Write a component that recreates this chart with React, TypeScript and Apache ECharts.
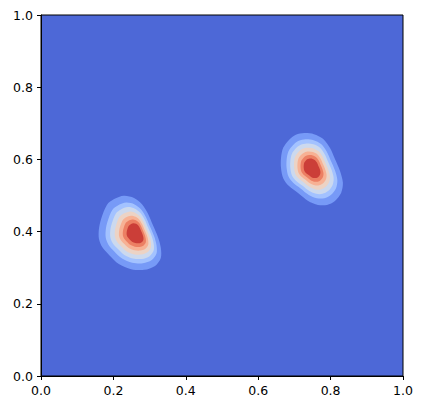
import React, { useEffect, useRef } from "react";
import * as echarts from "echarts";

// Axis ticks
const TICKS = [0, 0.2, 0.4, 0.6, 0.8, 1.0];

// Contour band colours (coolwarm, lowest band = background)
const BAND_COLORS = [
  "#4d68d7",
  "#779af7",
  "#a3c2ff",
  "#ccd9ee",
  "#ecd3c5",
  "#f7b194",
  "#ec7f63",
  "#cb3e38",
];

// Relative size of each contour line (outermost first) w.r.t. the outermost one
const LEVEL_SCALES = [1, 0.82, 0.7, 0.58, 0.47, 0.37, 0.27];

// Density peaks (data coords)
const PEAKS: number[][] = [
  [0.265, 0.395],
  [0.749, 0.576],
];

// Outermost contour of each blob (data coords)
const BLOB1_OUTLINE: number[][] = [
  [0.229, 0.499], [0.257, 0.493], [0.279, 0.476], [0.296, 0.449],
  [0.309, 0.418], [0.323, 0.385], [0.331, 0.355], [0.331, 0.327],
  [0.315, 0.305], [0.285, 0.294], [0.249, 0.296], [0.215, 0.31],
  [0.188, 0.335], [0.169, 0.357], [0.16, 0.38], [0.16, 0.407],
  [0.166, 0.435], [0.182, 0.474], [0.202, 0.49],
];
const BLOB2_OUTLINE: number[][] = [
  [0.727, 0.673], [0.754, 0.67], [0.779, 0.657], [0.798, 0.632],
  [0.812, 0.601], [0.826, 0.568], [0.834, 0.535], [0.829, 0.507],
  [0.812, 0.485], [0.79, 0.474], [0.765, 0.474], [0.738, 0.485],
  [0.71, 0.507], [0.685, 0.526], [0.669, 0.548], [0.663, 0.576],
  [0.663, 0.604], [0.669, 0.632], [0.685, 0.654], [0.704, 0.668],
];
const OUTLINES = [BLOB1_OUTLINE, BLOB2_OUTLINE];

export default function App() {
  const ref = useRef<HTMLDivElement>(null);
  useEffect(() => {
    if (!ref.current) return;
    const chart = echarts.init(ref.current, null, { renderer: "svg" });
    const data: any[] = [];
    for (let k = 1; k < BAND_COLORS.length; k++) {
      for (let b = 0; b < OUTLINES.length; b++) {
        data.push({ value: [PEAKS[b][0], PEAKS[b][1], k, b] });
      }
    }
    const labelFmt = (v: number) =>
      (TICKS.find((t) => Math.abs(t - v) < 1e-6) ?? v).toFixed(1);
    const axisCommon = {
      type: "value",
      min: 0,
      max: 1,
      interval: 0.2,
      splitLine: { show: false },
      axisLine: { show: true, lineStyle: { color: "#000", width: 1 } },
      axisTick: { show: true, inside: false, length: 4, lineStyle: { color: "#000", width: 1 } },
    };
    chart.setOption({
      animation: false,
      grid: {
        left: 41,
        top: 15,
        width: 362,
        height: 361,
        show: true,
        backgroundColor: BAND_COLORS[0],
        borderColor: "#000",
        borderWidth: 1,
      },
      xAxis: {
        ...axisCommon,
        axisLabel: {
          margin: 8,
          color: "#000",
          fontSize: 12.5,
          fontFamily: "DejaVu Sans",
          formatter: labelFmt,
        },
      },
      yAxis: {
        ...axisCommon,
        axisLabel: {
          margin: 8,
          color: "#000",
          fontSize: 12.5,
          fontFamily: "DejaVu Sans",
          formatter: labelFmt,
        },
      },
      series: [
        {
          type: "custom",
          encode: { x: 0, y: 1 },
          clip: true,
          data,
          renderItem: (params: any, api: any) => {
            const k = api.value(2);
            const b = api.value(3);
            const s = LEVEL_SCALES[k - 1];
            const [cx, cy] = PEAKS[b];
            const points = OUTLINES[b].map(([x, y]) =>
              api.coord([cx + s * (x - cx), cy + s * (y - cy)])
            );
            return {
              type: "polygon",
              shape: { points, smooth: 0.3, smoothConstraint: false },
              style: { fill: BAND_COLORS[k], stroke: null },
            };
          },
        },
      ],
    });
    return () => chart.dispose();
  }, []);
  return (
    <div
      ref={ref}
      style={{ position: "absolute", left: 0, top: 0, width: 423, height: 409 }}
    />
  );
}
